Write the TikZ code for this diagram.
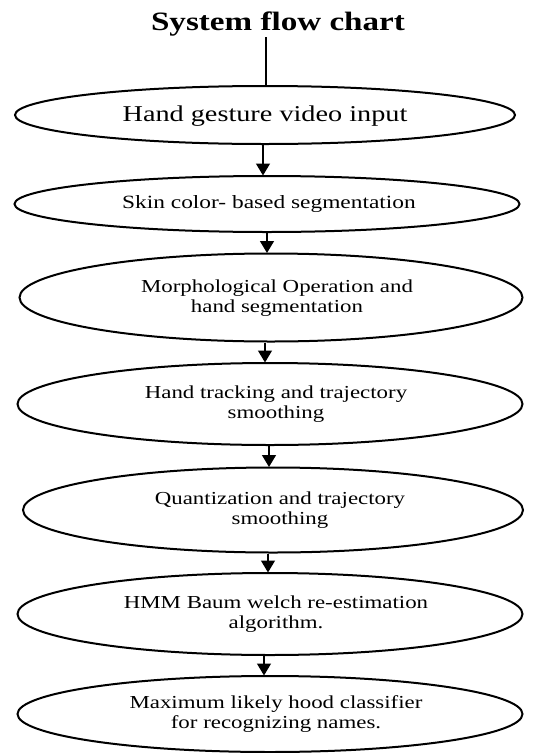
\documentclass[tikz,border=0pt]{standalone}
\usepackage{fontspec}
\setmainfont[FakeStretch=1.25]{Liberation Serif}
\usetikzlibrary{arrows.meta,shapes.geometric}
\tikzset{
  stage/.style={draw=black, line width=2pt, ellipse, inner sep=0pt, fill=white},
  lbl/.style={align=center, font=\fontsize{18.3}{20}\selectfont},
  arr/.style={line width=1.3pt, -{Triangle[length=12pt,width=14pt]}, shorten >=-0.5pt}
}
\begin{document}
\begin{tikzpicture}[x=1pt,y=-1pt]
\useasboundingbox (0,0) rectangle (533,753);
\fill[white] (0,0) rectangle (533,753);

\node[anchor=base, font=\fontsize{26.5}{28}\selectfont\bfseries] (title) at (278,30) {System flow chart};

\node[stage, minimum width=500pt, minimum height=58pt,
  label={[font=\fontsize{22.6}{24}\selectfont, yshift=-1pt]center:Hand gesture video input}] (e1) at (265,115) {};
\node[stage, minimum width=505pt, minimum height=56pt,
  label={[lbl, font=\fontsize{18.7}{20}\selectfont, xshift=2pt]center:Skin color- based segmentation}] (e2) at (267,204) {};
\node[stage, minimum width=503pt, minimum height=88pt,
  label={[lbl, xshift=6pt, yshift=-1pt]center:Morphological Operation and\\hand segmentation}] (e3) at (271,297.5) {};
\node[stage, minimum width=505pt, minimum height=82pt,
  label={[lbl, xshift=6pt]center:Hand tracking and trajectory\\smoothing}] (e4) at (270,404) {};
\node[stage, minimum width=500pt, minimum height=85pt,
  label={[lbl, xshift=7pt]center:Quantization and trajectory\\smoothing}] (e5) at (273,510) {};
\node[stage, minimum width=505pt, minimum height=82pt,
  label={[lbl, xshift=6pt]center:HMM Baum welch re-estimation\\algorithm.}] (e6) at (270,614) {};
\node[stage, minimum width=505pt, minimum height=76pt,
  label={[lbl, xshift=6pt]center:Maximum likely hood classifier\\for recognizing names.}] (e7) at (270,714) {};

\draw[line width=1.3pt] ([xshift=-12pt,yshift=2pt]title.south) -- ([xshift=1pt]e1.north);
\draw[arr] ([xshift=-2pt]e1.south) -- ([xshift=-4pt]e2.north);
\draw[arr] ([xshift=0pt]e2.south) -- ([xshift=-4pt]e3.north);
\draw[arr] ([xshift=-6pt]e3.south) -- ([xshift=-5pt]e4.north);
\draw[arr] ([xshift=-1pt]e4.south) -- ([xshift=-4pt]e5.north);
\draw[arr] ([xshift=-5pt]e5.south) -- ([xshift=-2pt]e6.north);
\draw[arr] ([xshift=-6pt]e6.south) -- ([xshift=-6pt]e7.north);
\end{tikzpicture}
\end{document}
